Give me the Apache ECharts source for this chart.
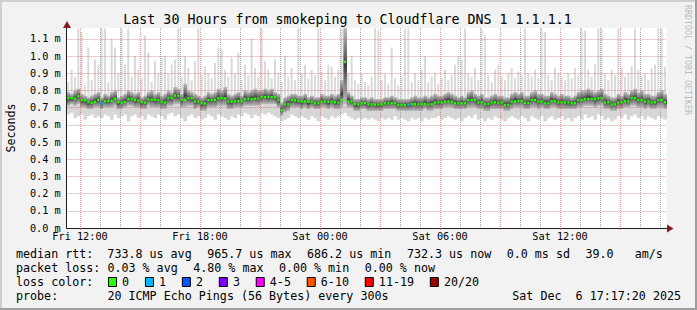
<!DOCTYPE html>
<html><head><meta charset="utf-8">
<script src="https://cdn.jsdelivr.net/npm/echarts@6/dist/echarts.min.js"></script>
<style>html,body{margin:0;padding:0;background:#f2f2f2;}#c{width:697px;height:310px;}</style>
</head><body><div id="c"></div>
<script>
// ---- data (10-minute steps starting Fri 11:20, values in ms) ----
const xTickLabels = ['Fri 12:00','Fri 18:00','Sat 00:00','Sat 06:00','Sat 12:00'];
const yTickValues = [0.0,0.1,0.2,0.3,0.4,0.5,0.6,0.7,0.8,0.9,1.0,1.1];
const med = [0.755,0.756,0.752,0.766,0.744,0.742,0.731,0.728,0.733,0.745,
 0.724,0.738,0.737,0.740,0.752,0.731,0.729,0.733,0.752,0.750,
 0.744,0.742,0.731,0.729,0.748,0.747,0.745,0.743,0.731,0.730,
 0.756,0.754,0.770,0.768,0.744,0.745,0.755,0.754,0.735,0.736,
 0.725,0.724,0.744,0.743,0.745,0.755,0.756,0.754,0.735,0.734,
 0.738,0.739,0.737,0.750,0.751,0.749,0.752,0.753,0.762,0.761,
 0.762,0.761,0.760,0.744,0.686,0.718,0.720,0.744,0.742,0.738,
 0.735,0.736,0.734,0.735,0.725,0.726,0.735,0.736,0.734,0.735,
 0.731,0.730,0.744,0.966,0.735,0.736,0.720,0.718,0.725,0.726,
 0.718,0.719,0.717,0.718,0.719,0.725,0.724,0.726,0.725,0.715,
 0.716,0.714,0.716,0.720,0.721,0.719,0.720,0.722,0.718,0.720,
 0.730,0.731,0.729,0.735,0.736,0.734,0.725,0.724,0.726,0.725,
 0.744,0.745,0.743,0.730,0.731,0.720,0.721,0.730,0.731,0.729,
 0.730,0.715,0.716,0.735,0.736,0.738,0.739,0.728,0.727,0.744,
 0.745,0.735,0.736,0.725,0.726,0.738,0.737,0.730,0.731,0.730,
 0.731,0.725,0.726,0.744,0.745,0.750,0.751,0.750,0.749,0.755,
 0.756,0.730,0.731,0.718,0.719,0.730,0.731,0.738,0.737,0.755,
 0.756,0.744,0.745,0.735,0.736,0.730,0.731,0.744,0.745,0.732];
const hi = [0.79,0.78,0.80,0.81,0.78,0.77,0.76,0.77,0.78,0.79,
 0.76,0.78,0.77,0.79,0.80,0.76,0.77,0.78,0.80,0.79,
 0.78,0.79,0.76,0.77,0.79,0.80,0.78,0.79,0.77,0.78,
 0.80,0.79,0.82,0.81,0.78,0.84,0.80,0.79,0.78,0.77,
 0.76,0.77,0.79,0.78,0.79,0.81,0.80,0.82,0.78,0.77,
 0.78,0.79,0.77,0.80,0.79,0.80,0.81,0.80,0.80,0.81,
 0.80,0.81,0.79,0.78,0.73,0.76,0.77,0.78,0.78,0.77,
 0.77,0.78,0.76,0.77,0.76,0.76,0.78,0.77,0.77,0.78,
 0.77,0.78,0.86,1.17,0.79,0.77,0.75,0.75,0.76,0.76,
 0.75,0.76,0.75,0.75,0.75,0.76,0.76,0.77,0.76,0.75,
 0.75,0.75,0.75,0.76,0.77,0.76,0.76,0.77,0.76,0.77,
 0.78,0.77,0.77,0.78,0.79,0.78,0.77,0.76,0.77,0.76,
 0.79,0.80,0.78,0.77,0.78,0.76,0.76,0.77,0.78,0.77,
 0.77,0.76,0.76,0.78,0.79,0.78,0.79,0.77,0.77,0.79,
 0.80,0.78,0.78,0.77,0.77,0.79,0.78,0.77,0.78,0.77,
 0.77,0.76,0.77,0.79,0.80,0.80,0.81,0.80,0.79,0.80,
 0.81,0.78,0.77,0.76,0.76,0.78,0.77,0.79,0.78,0.80,
 0.81,0.79,0.80,0.78,0.78,0.77,0.77,0.79,0.80,0.78];
const lo = [0.71,0.72,0.71,0.72,0.70,0.70,0.69,0.69,0.70,0.70,
 0.69,0.70,0.70,0.70,0.71,0.69,0.69,0.70,0.71,0.71,
 0.70,0.70,0.69,0.69,0.71,0.70,0.70,0.70,0.69,0.69,
 0.71,0.71,0.72,0.72,0.70,0.70,0.71,0.71,0.69,0.70,
 0.68,0.68,0.70,0.70,0.70,0.71,0.71,0.71,0.69,0.69,
 0.70,0.70,0.70,0.71,0.71,0.71,0.71,0.71,0.72,0.72,
 0.72,0.72,0.72,0.70,0.65,0.67,0.68,0.70,0.70,0.70,
 0.69,0.70,0.69,0.70,0.69,0.69,0.70,0.70,0.69,0.70,
 0.69,0.69,0.70,0.72,0.70,0.70,0.68,0.68,0.69,0.69,
 0.68,0.68,0.68,0.68,0.68,0.69,0.69,0.69,0.69,0.68,
 0.68,0.68,0.68,0.68,0.68,0.68,0.68,0.69,0.68,0.68,
 0.69,0.69,0.69,0.70,0.70,0.70,0.69,0.69,0.69,0.69,
 0.70,0.70,0.70,0.69,0.69,0.68,0.68,0.69,0.69,0.69,
 0.69,0.68,0.68,0.69,0.70,0.70,0.70,0.69,0.69,0.70,
 0.70,0.69,0.70,0.69,0.69,0.70,0.70,0.69,0.69,0.69,
 0.69,0.69,0.69,0.70,0.70,0.71,0.71,0.71,0.70,0.71,
 0.71,0.69,0.69,0.68,0.68,0.69,0.69,0.70,0.70,0.71,
 0.71,0.70,0.70,0.69,0.70,0.69,0.69,0.70,0.70,0.69];
const mn = [0.66,0.67,0.64,0.65,0.66,0.63,0.65,0.66,0.64,0.65,
 0.64,0.66,0.65,0.63,0.66,0.64,0.65,0.66,0.62,0.65,
 0.66,0.64,0.65,0.63,0.66,0.65,0.64,0.66,0.65,0.63,
 0.66,0.67,0.65,0.66,0.64,0.62,0.65,0.66,0.64,0.65,
 0.63,0.64,0.66,0.65,0.63,0.66,0.65,0.64,0.63,0.65,
 0.64,0.66,0.65,0.67,0.66,0.64,0.66,0.65,0.67,0.66,
 0.67,0.66,0.65,0.64,0.62,0.63,0.64,0.66,0.65,0.64,
 0.65,0.64,0.63,0.65,0.64,0.62,0.65,0.64,0.63,0.65,
 0.64,0.65,0.66,0.67,0.65,0.64,0.63,0.64,0.63,0.64,
 0.63,0.64,0.63,0.62,0.64,0.63,0.64,0.63,0.65,0.63,
 0.64,0.63,0.62,0.64,0.63,0.64,0.62,0.64,0.63,0.64,
 0.64,0.65,0.63,0.64,0.65,0.64,0.63,0.64,0.62,0.64,
 0.65,0.64,0.66,0.63,0.64,0.62,0.64,0.63,0.65,0.64,
 0.63,0.62,0.64,0.65,0.64,0.63,0.65,0.64,0.62,0.65,
 0.64,0.63,0.65,0.62,0.64,0.65,0.63,0.64,0.65,0.63,
 0.64,0.62,0.64,0.65,0.63,0.66,0.64,0.65,0.63,0.66,
 0.65,0.63,0.64,0.62,0.63,0.65,0.64,0.66,0.63,0.65,
 0.66,0.64,0.65,0.63,0.65,0.64,0.63,0.65,0.64,0.63];
const mx = [0.85,0.92,0.88,1.16,1.14,0.83,1.05,0.86,0.98,0.95,
 1.16,1.16,0.85,1.10,1.05,0.90,1.16,0.95,1.16,0.88,
 1.00,0.92,0.87,1.12,1.02,0.85,0.97,0.90,0.99,1.00,
 0.90,0.95,0.98,1.16,0.88,1.00,0.93,0.86,0.97,1.16,
 0.89,0.94,0.90,0.87,0.96,1.05,1.04,0.92,0.88,0.99,
 0.90,1.02,0.86,0.95,0.89,1.10,0.93,0.88,1.16,0.97,
 0.92,0.87,0.98,0.90,0.85,1.00,0.88,0.93,0.86,1.16,
 0.90,0.95,0.87,0.92,0.89,1.16,0.91,0.86,0.95,0.94,
 0.88,0.92,1.16,1.17,0.90,1.00,0.86,0.84,0.90,0.85,
 0.83,0.88,1.16,1.15,0.86,0.90,0.84,1.05,0.87,0.83,
 0.88,1.16,1.16,0.85,0.90,0.86,0.92,1.00,0.85,0.88,
 0.90,0.84,0.87,0.92,0.86,0.89,0.95,1.00,0.98,1.16,
 0.90,0.88,0.93,0.86,1.16,1.12,0.89,0.85,0.92,0.95,
 0.88,0.86,0.90,0.93,0.87,0.91,0.89,1.16,0.90,0.88,
 0.92,0.87,1.16,1.14,0.89,0.86,0.93,0.90,0.88,0.86,
 0.90,0.87,0.93,0.89,1.16,1.15,0.92,0.88,0.95,1.16,
 1.16,0.90,0.86,0.92,0.89,1.16,0.93,0.88,0.90,0.94,
 1.16,0.92,0.88,0.90,0.86,0.93,0.95,1.16,1.16,0.94];
const lossIdx = [10, 102];   // intervals with lost pings
const lossCnt = [1, 1];      // lost pings (of 20)
const lossLegend = ['0','1','2','3','4-5','6-10','11-19','20/20'];
const lossColors = ['#26ff00','#00b8ff','#0059ff','#7e00ff','#ff00ff','#ff5500','#ff0000','#a10000'];

// ---- build categories (time of each 10-min boundary) ----
const dayNames = ['Fri','Sat'];
const cats = [];
for (let k = 0; k <= med.length; k++) {
  const m = 11*60 + 20 + k*10;
  const d = Math.floor(m/1440), hh = Math.floor((m%1440)/60), mm = m%60;
  cats.push(dayNames[d] + ' ' + String(hh).padStart(2,'0') + ':' + String(mm).padStart(2,'0'));
}
const hourOf = v => +v.slice(4,6), minOf = v => +v.slice(7,9);
function lossColor(n){
  if (n<=0) return lossColors[0]; if (n===1) return lossColors[1]; if (n===2) return lossColors[2];
  if (n===3) return lossColors[3]; if (n<=5) return lossColors[4]; if (n<=10) return lossColors[5];
  if (n<=19) return lossColors[6]; return lossColors[7];
}
const smokeData = med.map((_, i) => [i, mn[i], lo[i], hi[i], mx[i]]);
const medData = med.map((v, i) => { const j = lossIdx.indexOf(i); return [i, v, j >= 0 ? lossCnt[j] : 0]; });

const FONT = 'DejaVu Sans Mono';
const GRID = 'rgba(143,143,143,0.75)', MGRID = 'rgba(222,79,79,0.6)';
const chart = echarts.init(document.getElementById('c'), null, {renderer:'svg'});

// legend layout helpers
const LF = 11.68, CW = LF*0.6021;
const gfx = [];
const txt = (s, x, y, opt={}) => gfx.push({type:'text', x, y, z:10, silent:true,
  style:Object.assign({text:s, fill:'#000', fontFamily:FONT, fontSize:LF, align:'left', verticalAlign:'middle'}, opt)});
// frame
gfx.push({type:'rect', shape:{x:0,y:0,width:697,height:2}, style:{fill:'#cfcfcf'}, z:1});
gfx.push({type:'rect', shape:{x:0,y:0,width:2,height:310}, style:{fill:'#cfcfcf'}, z:1});
gfx.push({type:'rect', shape:{x:0,y:308,width:697,height:2}, style:{fill:'#9e9e9e'}, z:1});
gfx.push({type:'rect', shape:{x:695,y:0,width:2,height:310}, style:{fill:'#9e9e9e'}, z:1});
// title
txt('Last 30 Hours from smokeping to Cloudflare DNS 1 1.1.1.1', 347.5, 19, {align:'center', fontSize:13.3});
// watermark
gfx.push({type:'text', x:687.5, y:5, rotation:-Math.PI/2, z:10, silent:true,
  style:{text:'RRDTOOL / TOBI OETIKER', fill:'#bcbcbc', fontFamily:FONT, fontSize:8.3, align:'left', verticalAlign:'middle'}});
// arrows
gfx.push({type:'polygon', shape:{points:[[667,224.5],[673.5,228.5],[667,232.5]]}, style:{fill:'#801f1f'}, z:10});
gfx.push({type:'polygon', shape:{points:[[63,28],[67,21],[71,28]]}, style:{fill:'#801f1f'}, z:10});
// legend rows
const r1 = [['median rtt:  733.8 us avg',16],['965.7 us max',207.2],['686.2 us min',307.0],['732.3 us now',406.9],['0.0 ms sd',506.7],['39.0',585.5],['am/s',585.5+7*CW]];
r1.forEach(([s,x]) => txt(s, x, 254));
const r2 = [['packet loss:',16],['0.03 % avg',16+13*CW],['4.80 % max',193.2],['0.00 % min',278.9],['0.00 % now',364.7]];
r2.forEach(([s,x]) => txt(s, x, 268));
txt('loss color:', 16, 281.8);
let lx = 122.1;
lossLegend.forEach((s, k) => {
  gfx.push({type:'rect', shape:{x:lx-13.6, y:277.5, width:8, height:9}, style:{fill:lossColors[k], stroke:'#000', lineWidth:1}, z:10});
  txt(s, lx, 281.8);
  lx += s.length*CW + 29.9;
});
txt('probe:', 16, 295.6);
txt('20 ICMP Echo Pings (56 Bytes) every 300s', 16+13*CW, 295.6);
txt('Sat Dec', 512.3, 295.6);
txt('6 17:17:20 2025', 512.3+9*CW, 295.6);

const darkFill = new echarts.graphic.LinearGradient(0,0,0,1,[
  {offset:0,color:'#bdbdbd'},{offset:0.3,color:'#7a7a7a'},{offset:0.5,color:'#3c3c3c'},{offset:0.7,color:'#7a7a7a'},{offset:1,color:'#bdbdbd'}]);
function renderSmoke(params, api){
  const i = api.value(0);
  const xa = api.coord([i, 0])[0], xb = api.coord([i+1, 0])[0], w = xb - xa;
  const yMn = api.coord([i, api.value(1)])[1], yLo = api.coord([i, api.value(2)])[1];
  const yHi = api.coord([i, api.value(3)])[1], yMx = api.coord([i, api.value(4)])[1];
  return {type:'group', children:[
    // lower light smoke (continuous)
    {type:'rect', shape:{x:xa, y:yLo, width:w+0.3, height:yMn-yLo}, style:{fill:'#d6d6d6'}},
    // upper light spike (thin)
    {type:'rect', shape:{x:xa+0.6, y:yMx, width:w*0.6, height:yHi-yMx+2}, style:{fill:'#dadada'}},
    // dense core
    {type:'rect', shape:{x:xa, y:yHi, width:w+0.3, height:yLo-yHi}, style:{fill:darkFill}}
  ]};
}
function renderMed(params, api){
  const i = api.value(0);
  const xa = api.coord([i, 0])[0], xb = api.coord([i+1, 0])[0];
  const y = api.coord([i, api.value(1)])[1];
  const c = (xa + xb)/2;
  return {type:'rect', shape:{x:c-1.1, y:y-1.2, width:2.2, height:2.4}, style:{fill:lossColor(api.value(2))}};
}

chart.setOption({
  animation:false,
  backgroundColor:'#f2f2f2',
  grid:{left:66.7, top:28, width:600, height:200, show:true, backgroundColor:'#ffffff', borderWidth:0, containLabel:false, outerBoundsMode:'none'},
  xAxis:[{
    type:'category', data:cats, boundaryGap:false, position:'bottom', z:3,
    axisLine:{show:true, lineStyle:{color:'#1f1f1f', width:1}},
    axisTick:{show:false},
    axisLabel:{show:true, interval:(i,v)=>xTickLabels.includes(v), color:'#000', fontFamily:FONT, fontSize:10.22, margin:3},
    splitLine:{show:true, interval:(i,v)=>minOf(v)===0 && hourOf(v)%3!==0, lineStyle:{color:GRID, type:[1,1], width:1}}
  },{
    type:'category', data:cats, boundaryGap:false, position:'bottom', z:3,
    axisLine:{show:false},
    axisTick:{show:true, interval:(i,v)=>minOf(v)===0 && hourOf(v)%3===0, length:2, lineStyle:{color:MGRID}},
    axisLabel:{show:false},
    splitLine:{show:true, interval:(i,v)=>minOf(v)===0 && hourOf(v)%3===0, lineStyle:{color:MGRID, type:[1,1], width:1}}
  }],
  yAxis:{
    type:'value', min:0, max:1.163, interval:0.1, z:3,
    axisLine:{show:true, lineStyle:{color:'#1f1f1f', width:1}},
    axisTick:{show:false},
    axisLabel:{formatter:v=>{const t=yTickValues.find(u=>Math.abs(u-v)<1e-6); return t===undefined?'':t.toFixed(1)+' m';},
      color:'#000', fontFamily:FONT, fontSize:10.22, margin:6},
    splitLine:{show:true, showMaxLine:false, lineStyle:{color:MGRID, type:[1,1], width:1}},
    name:'Seconds', nameLocation:'middle', nameGap:50, nameRotate:90,
    nameTextStyle:{color:'#000', fontFamily:FONT, fontSize:11.68}
  },
  series:[
    {type:'custom', xAxisIndex:0, renderItem:renderSmoke, data:smokeData, clip:true, z:2, silent:true},
    {type:'custom', xAxisIndex:0, renderItem:renderMed, data:medData, clip:true, z:4, silent:true}
  ],
  graphic:gfx
});
</script></body></html>
